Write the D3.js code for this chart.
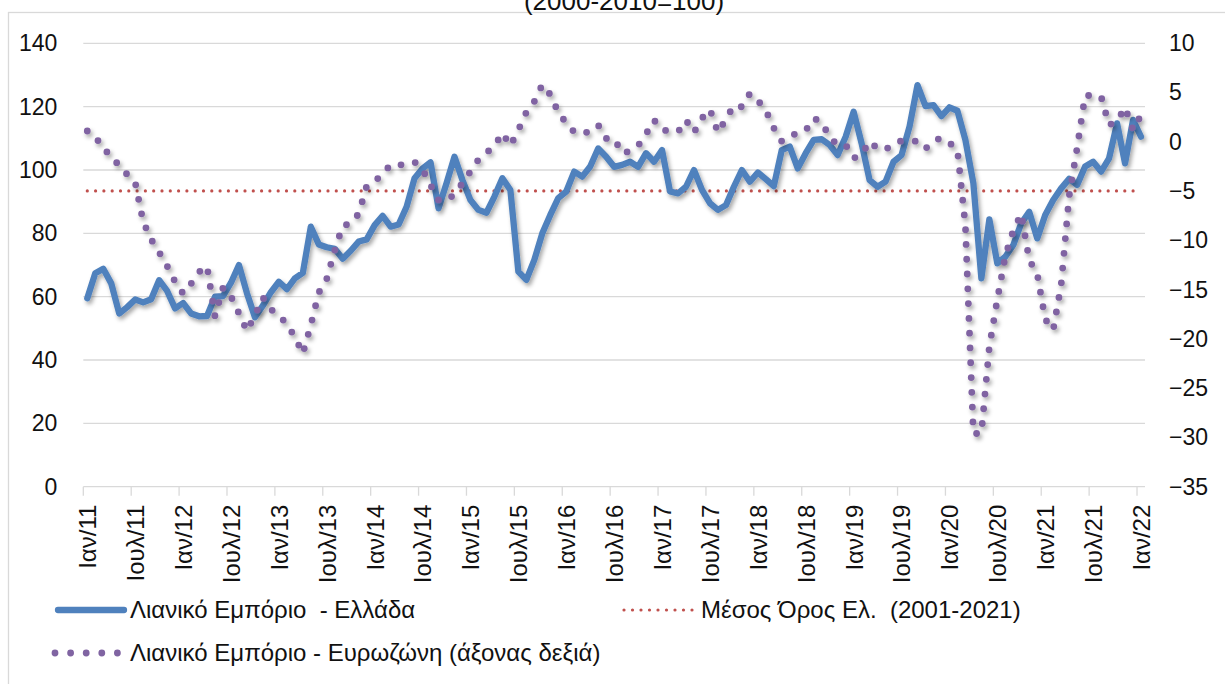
<!DOCTYPE html>
<html>
<head>
<meta charset="utf-8">
<script src="https://cdn.jsdelivr.net/npm/d3@7"></script>
<style>
  html, body { margin: 0; padding: 0; background: #fff; }
  svg { display: block; }
  text { font-family: "Liberation Sans", Arial, sans-serif; fill: #111; }
</style>
</head>
<body>
<svg id="chart" width="1225" height="684"></svg>
<script>
// ---------------- DATA ----------------
const years = ["11","12","13","14","15","16","17","18","19","20","21","22"];
const monthNames = ["Ιαν","Φεβ","Μαρ","Απρ","Μαϊ","Ιουν","Ιουλ","Αυγ","Σεπ","Οκτ","Νοε","Δεκ"];
const xTickLabels = ["Ιαν/11","Ιουλ/11","Ιαν/12","Ιουλ/12","Ιαν/13","Ιουλ/13","Ιαν/14","Ιουλ/14",
  "Ιαν/15","Ιουλ/15","Ιαν/16","Ιουλ/16","Ιαν/17","Ιουλ/17","Ιαν/18","Ιουλ/18","Ιαν/19","Ιουλ/19",
  "Ιαν/20","Ιουλ/20","Ιαν/21","Ιουλ/21","Ιαν/22"];

// Retail trade confidence - Greece (left axis, 2000-2010=100), Jan 2011 .. Jan 2022
const greece = [
  59.5, 67.4, 68.8, 64.2, 54.7, 56.7, 59.1, 58.2, 59.2, 65.2, 61.8, 56.3,
  58.0, 54.7, 53.8, 53.9, 60.0, 60.2, 64.4, 70.0, 61.1, 53.5, 57.2, 61.4,
  64.7, 62.4, 65.8, 67.5, 82.1, 76.5, 75.6, 75.1, 72.0, 74.5, 77.4, 78.1,
  82.6, 85.5, 82.1, 82.8, 88.4, 97.4, 100.5, 102.4, 87.9, 95.8, 104.2, 96.8,
  90.5, 87.4, 86.5, 91.6, 97.4, 93.7, 67.9, 65.3, 71.6, 80.0, 85.8, 91.1,
  93.2, 99.5, 97.9, 101.1, 106.8, 104.2, 101.0, 101.6, 102.6, 101.0, 105.3, 102.6,
  106.3, 93.2, 92.6, 94.7, 100.0, 93.7, 89.5, 87.4, 88.9, 94.7, 100.0, 96.3,
  99.2, 97.1, 94.9, 106.3, 107.4, 100.5, 105.3, 109.5, 109.7, 107.9, 104.7, 110.5,
  118.4, 108.4, 96.8, 94.7, 96.3, 102.6, 104.7, 113.7, 126.8, 120.2, 120.5, 117.0,
  119.8, 118.7, 109.5, 95.8, 65.8, 84.4, 70.5, 72.6, 76.3, 83.2, 86.8, 78.4,
  85.8, 90.5, 94.2, 97.2, 95.3, 101.1, 102.6, 99.5, 103.7, 114.7, 102.1, 115.8,
  110.5
];

// Retail trade confidence - Euro area (right axis, balance)
const eurozone = [
  1.1, 0.6, -0.8, -1.3, -2.5, -3.3, -4.1, -8.1, -9.9, -11.2, -12.6, -14.2,
  -15.4, -14.4, -13.2, -12.6, -17.7, -14.8, -15.7, -17.4, -19.2, -17.6, -15.8, -17.0,
  -17.6, -18.5, -19.8, -21.5, -18.6, -15.3, -13.9, -11.0, -8.5, -8.3, -7.3, -4.5,
  -4.0, -3.3, -2.3, -2.35, -2.3, -2.05, -2.8, -4.4, -5.9, -6.0, -5.3, -4.2,
  -3.0, -1.8, -1.1, -0.45, 0.9, -0.4, 1.2, 3.0, 4.1, 5.8, 4.8, 3.0,
  1.9, 1.0, 0.8, 1.1, 1.7, 0.35, 0.35, -1.15, -0.95, -0.4, 0.8, 2.2,
  1.2, 1.1, 1.0, 2.2, 0.95, 2.4, 3.3, 0.95, 2.3, 3.7, 3.55, 4.9,
  4.2, 3.2, 1.4, 0.05, 0.45, 1.0, 1.15, 2.4, 2.0, 0.45, -0.3, -0.3,
  -1.65, -1.3, 0.05, -0.7, -0.8, -0.15, 0.1, 0.1, 0.05, -0.7, 0.1, 0.4,
  -0.1, -0.8, -8.5, -29.6, -29.6, -20.8, -16.0, -11.6, -9.0, -7.3, -12.0, -13.4,
  -18.0, -19.1, -14.5, -5.5, -0.6, 4.7, 4.7, 4.6, 1.7, 2.1, 3.5, 1.2,
  2.7
];

const greeceMean = 93.4;   // Μέσος Όρος Ελ. (2001-2021)
const leftTicks = [0, 20, 40, 60, 80, 100, 120, 140];
const rightTicks = [-35, -30, -25, -20, -15, -10, -5, 0, 5, 10];
const seriesNames = ["Λιανικό Εμπόριο  - Ελλάδα", "Μέσος Όρος Ελ.  (2001-2021)", "Λιανικό Εμπόριο - Ευρωζώνη (άξονας δεξιά)"];
const titleText = "(2000-2010=100)";

// month categories
const months = [];
years.forEach(y => monthNames.forEach(m => months.push(m + "/" + y)));
const categories = months.slice(0, greece.length);

// ---------------- LAYOUT ----------------
const C = { blue: "#4F81BD", purple: "#8064A2", red: "#C0504D", grid: "#D9D9D9" };
const plot = { left: 83.3, right: 1145, top: 43.3, bottom: 486.7 };
const FONT = "Liberation Sans, Arial, sans-serif";

const svg = d3.select("#chart");
const defs = svg.append("defs");
const f = defs.append("filter").attr("id", "shadow")
  .attr("x", "-5%").attr("y", "-5%").attr("width", "110%").attr("height", "115%");
f.append("feDropShadow").attr("dx", 2).attr("dy", 3).attr("stdDeviation", 2)
  .attr("flood-color", "#000").attr("flood-opacity", 0.35);

// outer border
svg.append("rect").attr("x", 8.5).attr("y", 12.5).attr("width", 1400).attr("height", 800)
  .attr("fill", "none").attr("stroke", C.grid).attr("stroke-width", 1.3);

// title (partially outside the top edge, as in the reference)
svg.append("text").attr("x", 624).attr("y", 9.5).attr("text-anchor", "middle")
  .style("font-size", "26px").text(titleText);

const x = d3.scalePoint().domain(categories).range([plot.left, plot.right]).padding(0.5);
const yL = d3.scaleLinear().domain([0, 140]).range([plot.bottom, plot.top]);
const yR = d3.scaleLinear().domain([-35, 10]).range([plot.bottom, plot.top]);

// gridlines
svg.append("g").selectAll("line").data(leftTicks).join("line")
  .attr("x1", plot.left).attr("x2", plot.right)
  .attr("y1", d => yL(d)).attr("y2", d => yL(d))
  .attr("stroke", C.grid).attr("stroke-width", 1.3);

// left axis labels
const gL = svg.append("g").attr("transform", `translate(${plot.left},0)`)
  .call(d3.axisLeft(yL).tickValues(leftTicks).tickSize(0).tickPadding(26));
gL.select(".domain").remove();
gL.selectAll("text").style("font-size", "23px").style("font-family", FONT).attr("fill", "#111");

// right axis labels
const gR = svg.append("g").attr("transform", `translate(${plot.right},0)`)
  .call(d3.axisRight(yR).tickValues(rightTicks).tickSize(0).tickPadding(24));
gR.select(".domain").remove();
gR.selectAll("text").style("font-size", "23px").style("font-family", FONT).attr("fill", "#111");

// x-axis tick marks (category boundaries every 6 months)
const step = x.step();
const tickIdx = d3.range(0, categories.length, 6);
svg.append("g").selectAll("line").data(tickIdx).join("line")
  .attr("x1", i => x(categories[i]) - step / 2).attr("x2", i => x(categories[i]) - step / 2)
  .attr("y1", plot.bottom).attr("y2", plot.bottom + 9)
  .attr("stroke", C.grid).attr("stroke-width", 1.3);

// x-axis labels
const gX = svg.append("g").attr("transform", `translate(0,${plot.bottom})`)
  .call(d3.axisBottom(x).tickValues(tickIdx.map(i => categories[i]))
    .tickFormat((d, k) => xTickLabels[k]).tickSize(0));
gX.select(".domain").remove();
gX.selectAll("text")
  .style("font-size", "24px").style("font-family", FONT).attr("fill", "#111")
  .attr("text-anchor", "end")
  .attr("transform", "translate(0,18) rotate(-90)")
  .attr("x", 0).attr("y", 0).attr("dy", "0.35em");

// series
const lineL = d3.line().x((d, i) => x(categories[i])).y(d => yL(d));
const lineR = d3.line().x((d, i) => x(categories[i])).y(d => yR(d));

// mean line
const meanSeries = categories.map(() => greeceMean);
svg.append("path").datum(meanSeries).attr("d", lineL)
  .attr("fill", "none").attr("stroke", C.red).attr("stroke-width", 3.2)
  .attr("stroke-linecap", "round").attr("stroke-dasharray", "0 8.3");

svg.append("path").datum(greece).attr("d", lineL)
  .attr("fill", "none").attr("stroke", C.blue).attr("stroke-width", 6.3)
  .attr("stroke-linejoin", "round").attr("stroke-linecap", "round")
  .attr("filter", "url(#shadow)");

svg.append("path").datum(eurozone).attr("d", lineR)
  .attr("fill", "none").attr("stroke", C.purple).attr("stroke-width", 6.8)
  .attr("stroke-linejoin", "round").attr("stroke-linecap", "round")
  .attr("stroke-dasharray", "0 14.8")
  .attr("filter", "url(#shadow)");

// legend
const lg = svg.append("g");
function legendText(xp, yp, t) {
  lg.append("text").attr("x", xp).attr("y", yp).attr("dy", "0.35em")
    .style("font-size", "24px").style("white-space", "pre").attr("xml:space", "preserve").text(t);
}
lg.append("line").attr("x1", 58).attr("x2", 124).attr("y1", 610).attr("y2", 610)
  .attr("stroke", C.blue).attr("stroke-width", 6.3).attr("stroke-linecap", "round");
legendText(130, 610, seriesNames[0]);

lg.append("line").attr("x1", 624).attr("x2", 693).attr("y1", 610).attr("y2", 610)
  .attr("stroke", C.red).attr("stroke-width", 3.2).attr("stroke-linecap", "round").attr("stroke-dasharray", "0 8.5");
legendText(701, 610, seriesNames[1]);

lg.append("line").attr("x1", 55).attr("x2", 120).attr("y1", 653).attr("y2", 653)
  .attr("stroke", C.purple).attr("stroke-width", 6.8).attr("stroke-linecap", "round").attr("stroke-dasharray", "0 15.6");
legendText(130, 653, seriesNames[2]);
</script>
</body>
</html>
